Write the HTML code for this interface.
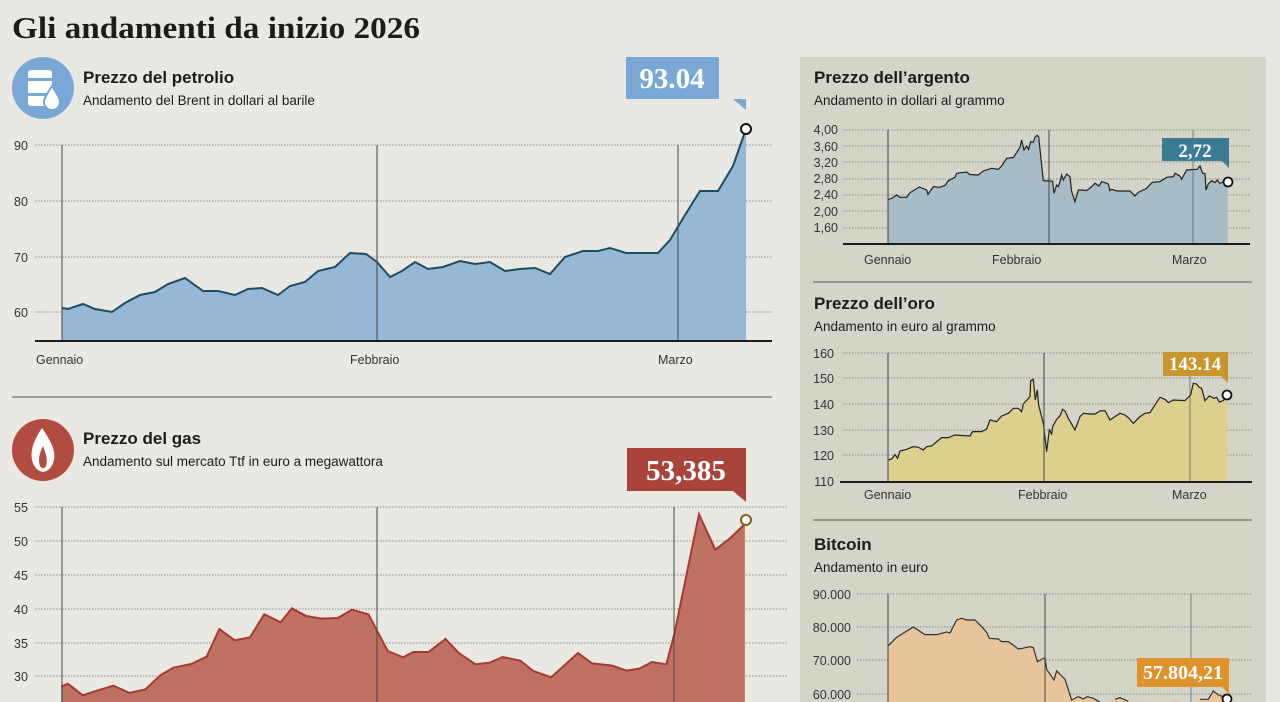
<!DOCTYPE html>
<html><head><meta charset="utf-8"><style>
html,body{margin:0;padding:0;background:#e9e8e2;overflow:hidden}
svg{display:block}
text{font-family:"Liberation Sans",sans-serif;}
.t{font-weight:bold;font-size:17px;fill:#1c1c1c}
.s{font-size:13.5px;fill:#1c1c1c}
.ax{font-size:12.5px;fill:#333}
.g{stroke:#8a8a84;stroke-width:1;stroke-dasharray:1.5 1.5}
.v{stroke:#444;stroke-width:1}
.ns{vector-effect:non-scaling-stroke}
.lab{font-family:"Liberation Serif",serif;font-weight:bold;fill:#fff}
</style></head><body>
<svg width="1280" height="702" viewBox="0 0 1280 702" xmlns="http://www.w3.org/2000/svg">
<rect width="1280" height="702" fill="#e9e8e2"/>
<rect x="800" y="57" width="466" height="645" fill="#d5d4c9"/>
<text x="12" y="38" style="font-family:'Liberation Serif',serif;font-weight:bold;font-size:31px;fill:#1c1c1c" textLength="408" lengthAdjust="spacingAndGlyphs">Gli andamenti da inizio 2026</text>

<!-- OIL -->
<circle cx="43" cy="88" r="31" fill="#7aa8d6"/>
<rect x="28" y="70" width="24" height="36" rx="3" fill="#fff"/>
<rect x="26" y="78" width="28" height="3" fill="#7aa8d6"/>
<rect x="26" y="93" width="28" height="3" fill="#7aa8d6"/>
<path d="M52 86 C46 95 44 99 44 102 A8 8 0 0 0 60 102 C60 99 58 95 52 86Z" fill="#fff" stroke="#7aa8d6" stroke-width="2"/>
<text x="83" y="83" class="t">Prezzo del petrolio</text>
<text x="83" y="105" class="s">Andamento del Brent in dollari al barile</text>
<g>
<line x1="35" y1="145" x2="772" y2="145" class="g"/>
<line x1="35" y1="201" x2="772" y2="201" class="g"/>
<line x1="35" y1="257" x2="772" y2="257" class="g"/>
<line x1="35" y1="312" x2="772" y2="312" class="g"/>
<text x="14" y="150" class="ax">90</text><text x="14" y="206" class="ax">80</text><text x="14" y="262" class="ax">70</text><text x="14" y="317" class="ax">60</text>
<polygon fill="#97b7d7" points="62,341 62,308 68,309 83,304 95,309 112,312 125,303 140,295 155,292 168,284 185,278 203,291 218,291 235,295 248,289 262,288 278,295 290,286 305,282 318,271 335,267 350,253 366,254 377,262 390,277 402,271 415,262 428,269 443,267 460,261 475,264 490,262 505,271 520,269 535,268 550,274 565,257 583,251 598,251 610,248 626,253 642,253 658,253 670,240 685,215 700,191 718,191 733,166 746,129 746,341"/>
<polyline fill="none" stroke="#1e4d5e" stroke-width="2" points="62,308 68,309 83,304 95,309 112,312 125,303 140,295 155,292 168,284 185,278 203,291 218,291 235,295 248,289 262,288 278,295 290,286 305,282 318,271 335,267 350,253 366,254 377,262 390,277 402,271 415,262 428,269 443,267 460,261 475,264 490,262 505,271 520,269 535,268 550,274 565,257 583,251 598,251 610,248 626,253 642,253 658,253 670,240 685,215 700,191 718,191 733,166 746,129"/>
<line x1="62" y1="145" x2="62" y2="341" class="v"/><line x1="377" y1="145" x2="377" y2="341" class="v"/><line x1="678" y1="145" x2="678" y2="341" class="v"/>
<line x1="35" y1="341" x2="772" y2="341" stroke="#1c1c1c" stroke-width="2"/>
<text x="36" y="364" class="ax">Gennaio</text><text x="350" y="364" class="ax">Febbraio</text><text x="658" y="364" class="ax">Marzo</text>
<rect x="626" y="57" width="93" height="42" fill="#7aa8d6"/>
<polygon points="733,99 746,99 746,110" fill="#7aa8d6"/>
<text x="672" y="88" class="lab" font-size="29" text-anchor="middle">93.04</text>
<circle cx="746" cy="129" r="5" fill="#fff" stroke="#111" stroke-width="2"/>
</g>
<line x1="12" y1="397" x2="772" y2="397" stroke="#555" stroke-width="1"/>

<!-- GAS -->
<circle cx="43" cy="450" r="31" fill="#b24c40"/>
<path d="M42 428 C34 440 30 450 32 460 C34 468 38 471 43 472 C48 471 52 468 54 460 C56 450 50 440 42 428Z" fill="#fff"/>
<path d="M43 446 C39 454 38 460 40 466 C42 469 44 469 46 466 C48 460 46 454 43 446Z" fill="#b24c40"/>
<text x="83" y="444" class="t">Prezzo del gas</text>
<text x="83" y="466" class="s">Andamento sul mercato Ttf in euro a megawattora</text>
<line x1="35" y1="507" x2="787" y2="507" class="g"/>
<line x1="35" y1="541" x2="787" y2="541" class="g"/>
<line x1="35" y1="575" x2="787" y2="575" class="g"/>
<line x1="35" y1="609" x2="787" y2="609" class="g"/>
<line x1="35" y1="643" x2="787" y2="643" class="g"/>
<line x1="35" y1="676" x2="787" y2="676" class="g"/>
<text x="14" y="512" class="ax">55</text><text x="14" y="546" class="ax">50</text><text x="14" y="580" class="ax">45</text><text x="14" y="614" class="ax">40</text><text x="14" y="648" class="ax">35</text><text x="14" y="681" class="ax">30</text>
<g transform="translate(0,420) scale(0.5102,0.33333)">
<polygon fill="#c07262" points="120,900 120,800 133,791 162,826 190,812 222,797 254,819 285,808 315,765 340,743 375,732 405,710 430,627 460,661 490,652 518,583 550,607 572,565 600,588 630,596 662,594 690,569 722,583 760,693 790,712 810,696 840,696 873,657 900,700 932,733 960,728 985,711 1020,722 1045,753 1080,772 1133,699 1160,730 1200,737 1228,752 1253,746 1278,726 1306,733 1322,640 1370,283 1402,389 1430,356 1460,312 1460,900"/>
<polyline class="ns" fill="none" stroke="#a63a32" stroke-width="2" points="120,800 133,791 162,826 190,812 222,797 254,819 285,808 315,765 340,743 375,732 405,710 430,627 460,661 490,652 518,583 550,607 572,565 600,588 630,596 662,594 690,569 722,583 760,693 790,712 810,696 840,696 873,657 900,700 932,733 960,728 985,711 1020,722 1045,753 1080,772 1133,699 1160,730 1200,737 1228,752 1253,746 1278,726 1306,733 1322,640 1370,283 1402,389 1430,356 1460,312"/>
</g>
<line x1="62" y1="507" x2="62" y2="702" class="v"/><line x1="377" y1="507" x2="377" y2="702" class="v"/><line x1="674" y1="507" x2="674" y2="702" class="v"/>
<rect x="627" y="448" width="119" height="43" fill="#a8443a"/>
<polygon points="733,491 746,491 746,502" fill="#a8443a"/>
<text x="686" y="480" class="lab" font-size="29" text-anchor="middle">53,385</text>
<circle cx="746" cy="520" r="5" fill="#fff" stroke="#8a5a1a" stroke-width="2"/>

<!-- ARGENTO -->
<text x="814" y="83" class="t">Prezzo dell’argento</text>
<text x="814" y="105" class="s">Andamento in dollari al grammo</text>
<g class="ax" text-anchor="end">
<text x="838" y="134">4,00</text><text x="838" y="151">3,60</text><text x="838" y="167">3,20</text><text x="838" y="183">2,80</text><text x="838" y="199">2,40</text><text x="838" y="216">2,00</text><text x="838" y="232">1,60</text>
</g>
<line x1="843" y1="130" x2="1250" y2="130" class="g"/><line x1="843" y1="146" x2="1250" y2="146" class="g"/><line x1="843" y1="162" x2="1250" y2="162" class="g"/><line x1="843" y1="179" x2="1250" y2="179" class="g"/><line x1="843" y1="195" x2="1250" y2="195" class="g"/><line x1="843" y1="211" x2="1250" y2="211" class="g"/><line x1="843" y1="228" x2="1250" y2="228" class="g"/>
<g transform="translate(800,60) scale(0.3333)">
<polygon fill="#a6bcc7" points="265,551 265,418 275,415 290,405 300,412 320,412 330,398 358,381 380,390 384,403 400,380 420,382 435,376 445,362 465,352 470,340 500,336 510,344 535,345 550,333 575,325 595,328 605,318 620,295 640,293 660,262 665,240 672,270 680,258 686,268 692,245 700,247 705,232 712,226 716,230 730,362 758,364 762,400 770,375 775,380 780,365 785,345 790,360 800,342 810,350 815,395 825,425 835,390 845,390 860,392 875,380 885,370 897,378 905,365 913,367 925,372 930,392 935,388 950,393 990,393 1005,408 1015,397 1030,390 1040,385 1057,367 1080,365 1100,352 1120,350 1125,340 1140,348 1145,358 1160,330 1192,328 1200,318 1208,340 1215,340 1218,390 1225,372 1235,362 1245,368 1252,360 1260,370 1270,366 1283,366 1283,551"/>
<polyline class="ns" fill="none" stroke="#222" stroke-width="1.2" points="265,418 275,415 290,405 300,412 320,412 330,398 358,381 380,390 384,403 400,380 420,382 435,376 445,362 465,352 470,340 500,336 510,344 535,345 550,333 575,325 595,328 605,318 620,295 640,293 660,262 665,240 672,270 680,258 686,268 692,245 700,247 705,232 712,226 716,230 730,362 758,364 762,400 770,375 775,380 780,365 785,345 790,360 800,342 810,350 815,395 825,425 835,390 845,390 860,392 875,380 885,370 897,378 905,365 913,367 925,372 930,392 935,388 950,393 990,393 1005,408 1015,397 1030,390 1040,385 1057,367 1080,365 1100,352 1120,350 1125,340 1140,348 1145,358 1160,330 1192,328 1200,318 1208,340 1215,340 1218,390 1225,372 1235,362 1245,368 1252,360 1260,370 1270,366 1283,366"/>
</g>
<line x1="888" y1="130" x2="888" y2="244" class="v"/><line x1="1049" y1="130" x2="1049" y2="244" class="v"/><line x1="1193" y1="130" x2="1193" y2="244" class="v" stroke-opacity="0.6"/>
<line x1="843" y1="244" x2="1250" y2="244" stroke="#1c1c1c" stroke-width="2"/>
<text x="864" y="264" class="ax">Gennaio</text><text x="992" y="264" class="ax">Febbraio</text><text x="1172" y="264" class="ax">Marzo</text>
<rect x="1162" y="138" width="67" height="23" fill="#3c7b94"/>
<polygon points="1222,161 1229,161 1229,168" fill="#3c7b94"/>
<text x="1195" y="157" class="lab" font-size="19" text-anchor="middle">2,72</text>
<circle cx="1228" cy="182" r="4.5" fill="#fff" stroke="#111" stroke-width="1.8"/>
<line x1="813" y1="282" x2="1252" y2="282" stroke="#555"/>

<!-- ORO -->
<text x="814" y="309" class="t">Prezzo dell’oro</text>
<text x="814" y="331" class="s">Andamento in euro al grammo</text>
<g class="ax" text-anchor="end">
<text x="834" y="358">160</text><text x="834" y="383">150</text><text x="834" y="409">140</text><text x="834" y="435">130</text><text x="834" y="460">120</text><text x="834" y="486">110</text>
</g>
<line x1="843" y1="353" x2="1252" y2="353" class="g"/><line x1="843" y1="378" x2="1252" y2="378" class="g"/><line x1="843" y1="404" x2="1252" y2="404" class="g"/><line x1="843" y1="430" x2="1252" y2="430" class="g"/><line x1="843" y1="455" x2="1252" y2="455" class="g"/>
<g transform="translate(800,280) scale(0.3333)">
<polygon fill="#ddd08e" points="265,605 265,540 275,537 285,524 293,535 300,513 320,508 340,500 355,502 370,510 380,500 395,498 425,473 445,473 465,465 490,467 510,468 518,455 545,455 560,447 570,420 590,425 605,408 625,400 640,385 655,385 665,395 670,372 690,350 692,302 700,298 706,360 712,330 716,375 730,430 740,515 748,450 755,462 758,440 770,418 780,408 788,388 795,393 805,415 825,450 840,410 850,400 870,402 885,402 900,393 915,392 930,420 945,410 960,400 975,405 985,413 1000,430 1020,410 1035,400 1050,398 1065,375 1080,352 1095,358 1105,368 1120,360 1155,362 1172,345 1180,310 1190,312 1198,322 1205,325 1215,362 1228,348 1242,355 1250,352 1258,366 1270,362 1282,346 1282,605"/>
<polyline class="ns" fill="none" stroke="#222" stroke-width="1.2" points="265,540 275,537 285,524 293,535 300,513 320,508 340,500 355,502 370,510 380,500 395,498 425,473 445,473 465,465 490,467 510,468 518,455 545,455 560,447 570,420 590,425 605,408 625,400 640,385 655,385 665,395 670,372 690,350 692,302 700,298 706,360 712,330 716,375 730,430 740,515 748,450 755,462 758,440 770,418 780,408 788,388 795,393 805,415 825,450 840,410 850,400 870,402 885,402 900,393 915,392 930,420 945,410 960,400 975,405 985,413 1000,430 1020,410 1035,400 1050,398 1065,375 1080,352 1095,358 1105,368 1120,360 1155,362 1172,345 1180,310 1190,312 1198,322 1205,325 1215,362 1228,348 1242,355 1250,352 1258,366 1270,362 1282,346"/>
</g>
<line x1="888" y1="353" x2="888" y2="482" class="v"/><line x1="1044" y1="353" x2="1044" y2="482" class="v"/><line x1="1190" y1="353" x2="1190" y2="482" class="v" stroke-opacity="0.6"/>
<line x1="840" y1="482" x2="1252" y2="482" stroke="#1c1c1c" stroke-width="2"/>
<text x="864" y="499" class="ax">Gennaio</text><text x="1018" y="499" class="ax">Febbraio</text><text x="1172" y="499" class="ax">Marzo</text>
<rect x="1163" y="352" width="65" height="24" fill="#c9952f"/>
<polygon points="1221,376 1228,376 1228,383" fill="#c9952f"/>
<text x="1195" y="370" class="lab" font-size="19" text-anchor="middle">143.14</text>
<circle cx="1227" cy="395" r="4.5" fill="#fff" stroke="#111" stroke-width="1.8"/>
<line x1="813" y1="520" x2="1252" y2="520" stroke="#555"/>

<!-- BITCOIN -->
<text x="814" y="550" class="t">Bitcoin</text>
<text x="814" y="572" class="s">Andamento in euro</text>
<g class="ax" text-anchor="end">
<text x="851" y="599">90.000</text><text x="851" y="632">80.000</text><text x="851" y="665">70.000</text><text x="851" y="699">60.000</text>
</g>
<line x1="857" y1="594" x2="1252" y2="594" class="g"/><line x1="857" y1="627" x2="1252" y2="627" class="g"/><line x1="857" y1="660" x2="1252" y2="660" class="g"/><line x1="857" y1="694" x2="1252" y2="694" class="g"/>
<g transform="translate(800,500) scale(0.3333)">
<polygon fill="#e8c59b" points="265,606 265,437 290,412 340,381 375,404 410,404 440,396 450,399 470,360 485,355 500,360 525,360 545,380 560,397 568,415 595,417 605,425 625,425 655,447 668,445 690,440 700,443 712,485 735,473 740,508 762,540 770,513 795,538 815,600 835,590 850,597 862,590 880,595 900,606 920,606 945,598 960,593 985,604 1040,605 1100,606 1130,602 1140,606 1180,606 1200,598 1225,598 1240,573 1255,585 1283,595 1283,606"/>
<polyline class="ns" fill="none" stroke="#333" stroke-width="1.2" points="265,437 290,412 340,381 375,404 410,404 440,396 450,399 470,360 485,355 500,360 525,360 545,380 560,397 568,415 595,417 605,425 625,425 655,447 668,445 690,440 700,443 712,485 735,473 740,508 762,540 770,513 795,538 815,600 835,590 850,597 862,590 880,595 900,606"/>
<polyline class="ns" fill="none" stroke="#333" stroke-width="1.2" points="945,598 960,593 985,604"/>
<polyline class="ns" fill="none" stroke="#333" stroke-width="1.2" points="1200,598 1225,598 1240,573 1255,585 1283,595"/>
</g>
<line x1="888" y1="594" x2="888" y2="702" class="v"/><line x1="1045" y1="594" x2="1045" y2="702" class="v"/><line x1="1191" y1="594" x2="1191" y2="702" class="v" stroke-opacity="0.6"/>
<rect x="1137" y="658" width="92" height="29" fill="#e0922a"/>
<polygon points="1222,687 1229,687 1229,694" fill="#e0922a"/>
<text x="1183" y="679" class="lab" font-size="20" text-anchor="middle">57.804,21</text>
<circle cx="1227" cy="699" r="4.5" fill="#fff" stroke="#111" stroke-width="1.8"/>
</svg>
</body></html>
